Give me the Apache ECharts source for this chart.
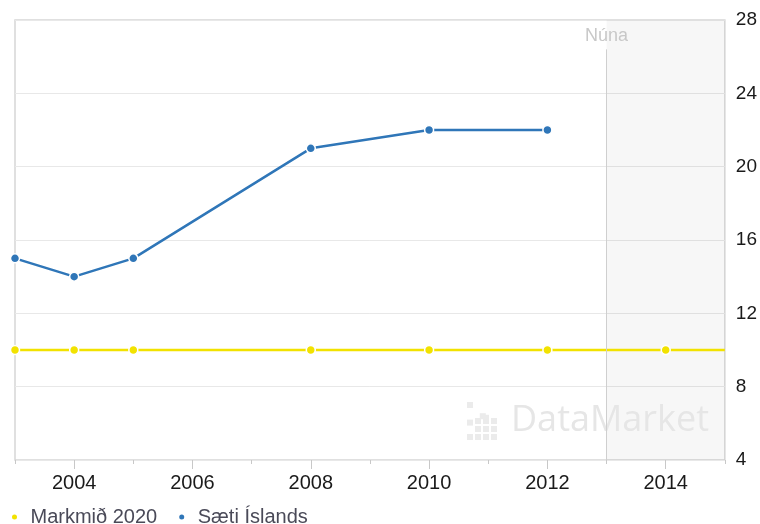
<!DOCTYPE html>
<html>
<head>
<meta charset="utf-8">
<script src="https://cdn.jsdelivr.net/npm/echarts@6/dist/echarts.min.js"></script>
<style>
  html, body { margin: 0; padding: 0; background: #fff; }
  #chart { width: 760px; height: 524px; }
</style>
</head>
<body>
<div id="chart"></div>
<script>
// data
const icelandYears = [2003, 2004, 2005, 2008, 2010, 2012]
const icelandRank = [15, 14, 15, 21, 22, 22]
const targetYears = [2003, 2004, 2005, 2008, 2010, 2012, 2014, 2015]
const targetRank = [10, 10, 10, 10, 10, 10, 10, 10]
const labelYears = [2004, 2006, 2008, 2010, 2012, 2014]
const yTicks = [4, 8, 12, 16, 20, 24, 28]
const nowYear = 2013
const xMin = 2003
const xMax = 2015

const fontFamily = 'Liberation Sans, Arial, sans-serif'
const blue = '#2f76b8'
const yellow = '#f2e200'

const chart = echarts.init(document.getElementById('chart'))

const toPairs = (xs, ys) => xs.map((x, i) => [x, ys[i]])

// last target point sits on the edge, no marker there
const targetData = toPairs(targetYears, targetRank).map(p =>
  p[0] === xMax ? { value: p, symbol: 'none' } : p
)

// DataMarket watermark icon (small squares)
const iconCells = [
  [0, 0], [1.6, 1.4], [2, 1.6],
  [0, 2.2], [1, 2], [2, 2], [3, 2],
  [1, 3], [2, 3], [3, 3],
  [0, 4], [1, 4], [2, 4], [3, 4]
]
const iconGraphics = iconCells.map(c => ({
  type: 'rect',
  left: 467 + c[0] * 8,
  top: 402 + c[1] * 8,
  shape: { width: 6, height: 6 },
  style: { fill: '#ebebeb' },
  silent: true,
  z: 2
}))

chart.setOption({
  animation: false,
  textStyle: { fontFamily },
  grid: {
    left: 15,
    right: 33,
    top: 20,
    bottom: 64,
    show: true,
    borderColor: '#d6d6d6',
    borderWidth: 1.5
  },
  legend: {
    left: 5,
    top: 502,
    itemWidth: 22,
    itemHeight: 7,
    itemGap: 20,
    icon: 'circle',
    textStyle: { fontSize: 20, color: '#4a4a58', fontFamily },
    data: ['Markmið 2020', 'Sæti Íslands']
  },
  graphic: [
    ...iconGraphics,
    {
      type: 'text',
      left: 511,
      top: 403,
      silent: true,
      z: 2,
      style: {
        text: 'DataMarket',
        fill: '#e6e6e6',
        font: '36px "Open Sans", sans-serif'
      }
    }
  ],
  xAxis: [{
    type: 'value',
    min: xMin,
    max: xMax,
    interval: 1,
    axisLine: { show: false },
    axisTick: { show: true, length: 4, lineStyle: { color: '#c8c8c8' } },
    axisLabel: { show: false },
    splitLine: { show: false }
  }, {
    type: 'value',
    min: xMin,
    max: xMax,
    position: 'bottom',
    axisLine: { show: false },
    axisTick: {
      show: true,
      length: 9,
      customValues: labelYears,
      lineStyle: { color: '#c8c8c8' }
    },
    axisLabel: {
      customValues: labelYears,
      fontSize: 20,
      color: '#1a1a1a',
      margin: 13,
      formatter: v => String(v)
    },
    splitLine: { show: false }
  }],
  yAxis: {
    type: 'value',
    position: 'right',
    min: yTicks[0],
    max: yTicks[yTicks.length - 1],
    interval: 4,
    axisLine: { show: false },
    axisTick: { show: false },
    axisLabel: { fontSize: 19, color: '#1a1a1a', margin: 11 },
    splitLine: { lineStyle: { color: '#e8e8e8', width: 1 } }
  },
  series: [{
    name: 'Markmið 2020',
    type: 'line',
    color: yellow,
    data: targetData,
    symbol: 'circle',
    symbolSize: 9,
    lineStyle: { width: 2.5, color: yellow },
    itemStyle: { color: yellow, borderColor: '#fff', borderWidth: 1.5 },
    z: 3,
    markArea: {
      silent: true,
      itemStyle: { color: 'rgba(0,0,0,0.03)' },
      data: [[{ xAxis: nowYear }, { xAxis: xMax }]]
    },
    markLine: {
      silent: true,
      symbol: 'none',
      lineStyle: { color: '#cfcfcf', width: 1, type: 'solid' },
      label: {
        show: true,
        position: 'end',
        formatter: 'Núna',
        color: '#c8c8c8',
        fontSize: 18,
        distance: 4
      },
      data: [[{ coord: [nowYear, yTicks[0]] }, { coord: [nowYear, 26.4] }]]
    }
  }, {
    name: 'Sæti Íslands',
    type: 'line',
    color: blue,
    data: toPairs(icelandYears, icelandRank),
    symbol: 'circle',
    symbolSize: 9,
    lineStyle: { width: 2.5, color: blue },
    itemStyle: { color: blue, borderColor: '#fff', borderWidth: 1.5 },
    z: 4
  }]
})
</script>
</body>
</html>
